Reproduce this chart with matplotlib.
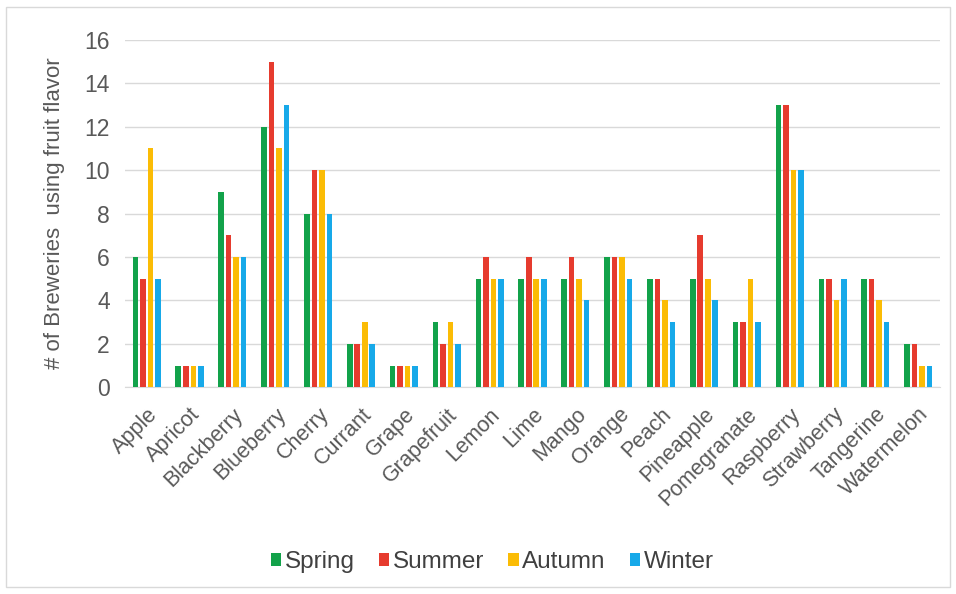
import matplotlib
matplotlib.use("Agg")
from matplotlib import pyplot as plt
from matplotlib.patches import Rectangle
import numpy as np

plt.rcParams['font.family'] = ['Liberation Sans', 'DejaVu Sans']

fruits = ['Apple', 'Apricot', 'Blackberry', 'Blueberry', 'Cherry', 'Currant',
          'Grape', 'Grapefruit', 'Lemon', 'Lime', 'Mango', 'Orange', 'Peach',
          'Pineapple', 'Pomegranate', 'Raspberry', 'Strawberry', 'Tangerine',
          'Watermelon']

spring = [6, 1, 9, 12, 8, 2, 1, 3, 5, 5, 5, 6, 5, 5, 3, 13, 5, 5, 2]
summer = [5, 1, 7, 15, 10, 2, 1, 2, 6, 6, 6, 6, 5, 7, 3, 13, 5, 5, 2]
autumn = [11, 1, 6, 11, 10, 3, 1, 3, 5, 5, 5, 6, 4, 5, 5, 10, 4, 4, 1]
winter = [5, 1, 6, 13, 8, 2, 1, 2, 5, 5, 4, 5, 3, 4, 3, 10, 5, 3, 1]

seasons = ['Spring', 'Summer', 'Autumn', 'Winter']
colors = ['#12a24a', '#e63b2e', '#fbbc05', '#17a9e9']

fig = plt.figure(figsize=(9.56, 5.94), dpi=100)
ax = fig.add_axes([0.131, 0.348, 0.852, 0.585])

# light frame round the whole chart
fig.patches.append(Rectangle((0.006, 0.012), 0.988, 0.976, transform=fig.transFigure,
                             fill=False, edgecolor='#d9d9d9', linewidth=1))

x = np.arange(len(fruits))
step = 0.175
width = 0.13
for i, (vals, name, c) in enumerate(zip([spring, summer, autumn, winter], seasons, colors)):
    ax.bar(x + (i - 1.5) * step, vals, width, color=c, label=name, zorder=3)

ax.set_xlim(-0.5, len(fruits) - 0.5)
ax.set_ylim(0, 16)
ax.set_yticks(np.arange(0, 17, 2))
ax.grid(axis='y', color='#d9d9d9', linewidth=1, zorder=0)
for side in ['top', 'right', 'left']:
    ax.spines[side].set_visible(False)
ax.spines['bottom'].set_color('#d9d9d9')

ax.set_xticks(x)
ax.set_xticklabels(fruits, rotation=45, ha='right', rotation_mode='anchor')
ax.tick_params(axis='x', length=0, labelsize=15.5, colors='#595959', pad=12)
ax.tick_params(axis='y', length=0, labelsize=16.5, colors='#595959', pad=11)

ax.set_ylabel('# of Breweries  using fruit flavor', fontsize=16, color='#595959', labelpad=14)

fig.legend(loc='center', bbox_to_anchor=(0.515, 0.054), ncol=4, frameon=False,
           fontsize=17.5, handlelength=0.42, handleheight=0.42, handletextpad=0.15,
           columnspacing=1.0, labelcolor='#404040')

fig.savefig('out.png', dpi=100)
